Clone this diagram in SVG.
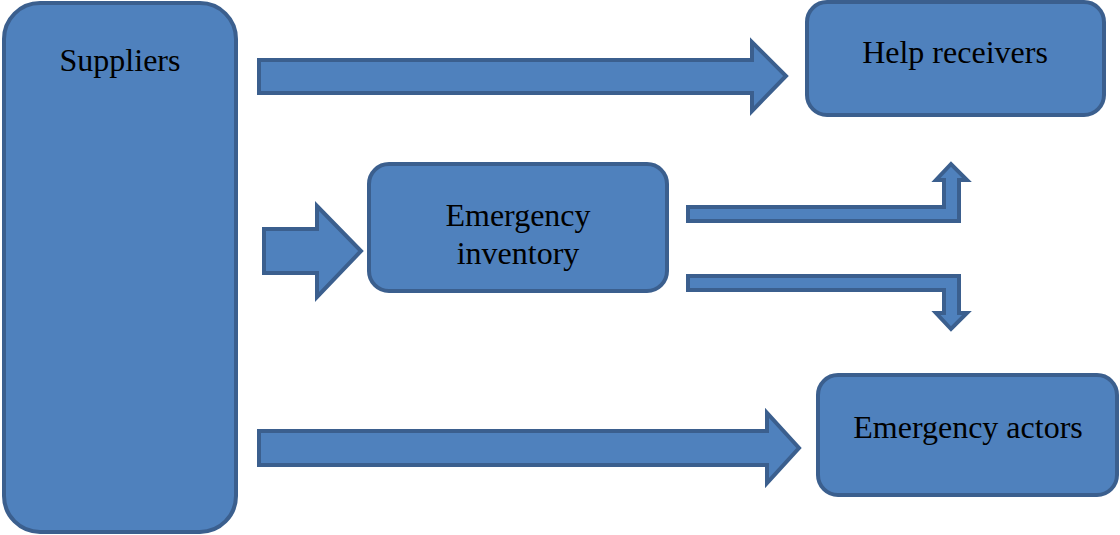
<svg xmlns="http://www.w3.org/2000/svg" width="1120" height="535" viewBox="0 0 1120 535">
<style>
.box{fill:#4f81bd;stroke:#3b5f8e;stroke-width:4}
.arr{fill:#4f81bd;stroke:#3b5f8e;stroke-width:4;stroke-linejoin:miter}
.t{font-family:"Liberation Serif","Times New Roman",serif;font-size:32px;fill:#000;text-anchor:middle}
</style>
<rect width="1120" height="535" fill="#fff"/>
<g id="suppliers">
<rect class="box" x="4" y="3" width="232" height="529" rx="36"/>
<text class="t" x="120" y="71">Suppliers</text>
</g>
<g id="help-receivers">
<rect class="box" x="807" y="2" width="297" height="113" rx="20"/>
<text class="t" x="955" y="63">Help receivers</text>
</g>
<g id="emergency-inventory">
<rect class="box" x="369" y="164" width="298" height="127" rx="20"/>
<text class="t" x="518" y="226">Emergency</text>
<text class="t" x="518" y="264">inventory</text>
</g>
<g id="emergency-actors">
<rect class="box" x="818" y="375" width="299" height="120" rx="20"/>
<text class="t" x="968" y="438">Emergency actors</text>
</g>
<g id="connectors">
<polygon class="arr" points="259,60 752,60 752,42 786,76 752,111 752,93 259,93"/>
<polygon class="arr" points="259,431 767,431 767,413 799,448 767,483 767,465 259,465"/>
<polygon class="arr" points="264,229 317,229 317,206 361,251 317,297 317,273 264,273"/>
<polygon class="arr" points="688,207 944,207 944,180 936,180 951,164 967,180 959,180 959,221 688,221"/>
<polygon class="arr" points="688,276 959,276 959,313 967,313 951,329 936,313 944,313 944,290 688,290"/>
</g>
</svg>
